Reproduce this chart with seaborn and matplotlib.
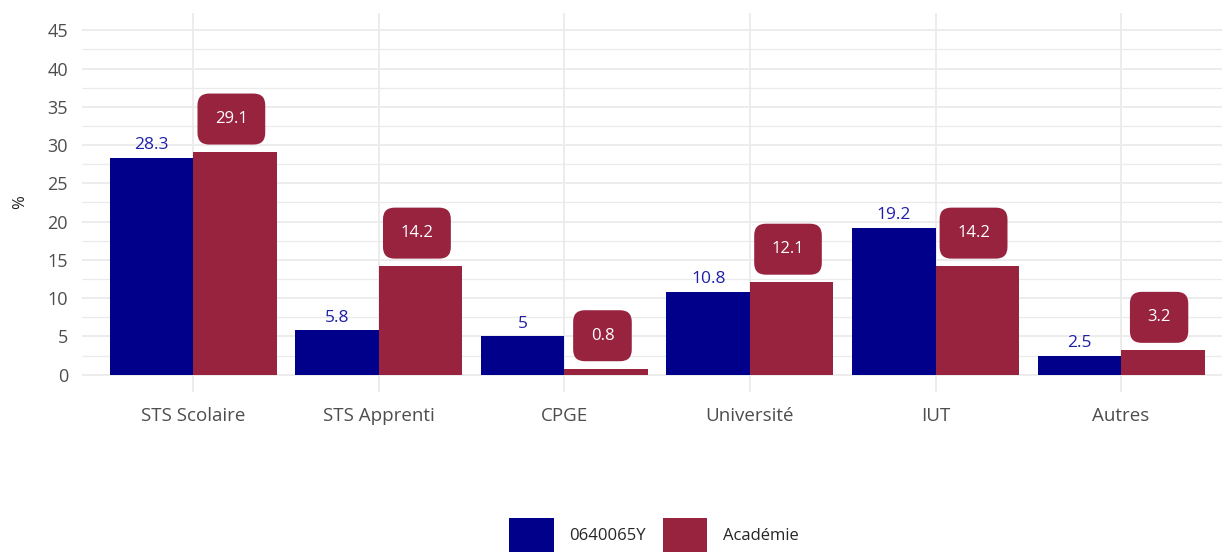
import numpy as np
import pandas as pd
import matplotlib
matplotlib.use("Agg")
import matplotlib.pyplot as plt
import seaborn as sns
from matplotlib.patches import Patch

categories = ["STS Scolaire", "STS Apprenti", "CPGE", "Université", "IUT", "Autres"]
etab_values = [28.3, 5.8, 5.0, 10.8, 19.2, 2.5]
acad_values = [29.1, 14.2, 0.8, 12.1, 14.2, 3.2]
etab_labels = ["28.3", "5.8", "5", "10.8", "19.2", "2.5"]
acad_labels = ["29.1", "14.2", "0.8", "12.1", "14.2", "3.2"]
series = ["0640065Y", "Académie"]

blue = "#00008B"
red = "#98233F"
grid_col = "#EBEBEB"
tick_col = "#4D4D4D"

df = pd.DataFrame({
    "categorie": categories * 2,
    "valeur": etab_values + acad_values,
    "serie": [series[0]] * len(categories) + [series[1]] * len(categories),
})

sns.set_style("white")
plt.rcParams["font.family"] = ["Open Sans", "DejaVu Sans"]

fig = plt.figure(figsize=(12.22, 5.55), dpi=100)
ax = fig.add_axes([82 / 1222, 1 - 392 / 555, 1 - 82 / 1222, (392 - 13) / 555])

sns.barplot(data=df, x="categorie", y="valeur", hue="serie", order=categories,
            hue_order=series, palette={series[0]: blue, series[1]: red},
            width=0.9, gap=0, saturation=1, dodge=True, legend=False, ax=ax,
            linewidth=0, edgecolor="none", zorder=2)

ax.set_xlim(-0.6, 5.544)
ax.set_ylim(-2.25, 47.25)
ax.set_yticks(np.arange(0, 46, 5))
ax.set_yticks(np.arange(2.5, 46, 5), minor=True)
ax.grid(True, which="major", axis="both", color=grid_col, linewidth=1.3, zorder=0)
ax.grid(True, which="minor", axis="y", color=grid_col, linewidth=0.9, zorder=0)
ax.set_axisbelow(True)
for s in ax.spines.values():
    s.set_visible(False)
ax.tick_params(axis="both", which="both", length=0, colors=tick_col)
ax.tick_params(axis="x", pad=11, labelsize=13.5)
ax.tick_params(axis="y", pad=10, labelsize=13)
ax.set_xlabel("")
ax.set_ylabel("%", fontsize=12, color="#222222", labelpad=14)

# value labels
off = 0.225
for i, (v, t) in enumerate(zip(etab_values, etab_labels)):
    ax.text(i - off, v + 0.6, t, ha="center", va="bottom", color="#1F1FA8",
            fontsize=12.5)
for i, (v, t) in enumerate(zip(acad_values, acad_labels)):
    ax.text(i + off - 0.02, v + 4.3, t, ha="center", va="center", color="white",
            fontsize=12,
            bbox=dict(boxstyle="round,pad=1.05,rounding_size=0.7", fc=red,
                      ec="none"))

handles = [Patch(facecolor=blue, edgecolor="none"),
           Patch(facecolor=red, edgecolor="none")]
fig.legend(handles, series, loc="center", bbox_to_anchor=(654 / 1222, 1 - 535 / 555),
           ncol=2, frameon=False, fontsize=12, handlelength=2.65, handleheight=2.8,
           handletextpad=0.95, columnspacing=1.0)

fig.savefig("out.png", dpi=100)
